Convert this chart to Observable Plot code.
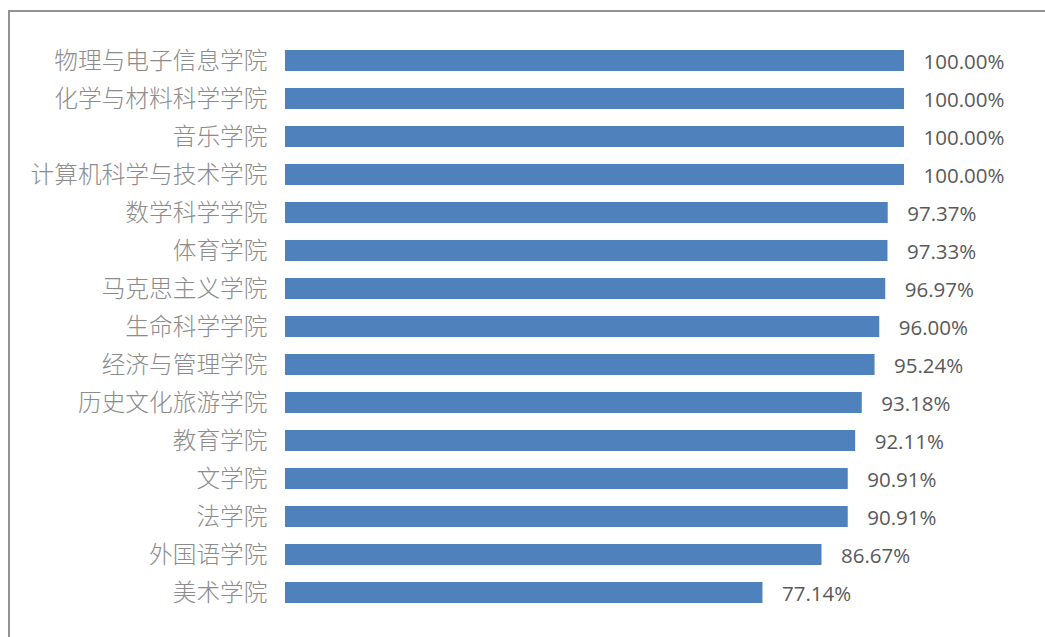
<!DOCTYPE html>
<html>
<head>
<meta charset="utf-8">
<script src="https://cdn.jsdelivr.net/npm/d3@7"></script>
<script src="https://cdn.jsdelivr.net/npm/@observablehq/plot@0.6"></script>
<style>
  html, body { margin: 0; padding: 0; background: #fff; }
  #wrap { position: relative; width: 1045px; height: 637px; overflow: hidden; }
  #frame { position: absolute; left: 8px; top: 10px; width: 1100px; height: 700px;
           border-top: 2px solid #929292; border-left: 2px solid #929292; }
  #chart { position: absolute; left: 0; top: 0; }
</style>
</head>
<body>
<div id="wrap">
  <div id="frame"></div>
  <div id="chart"></div>
</div>
<script>
const categories = [
  "物理与电子信息学院", "化学与材料科学学院", "音乐学院", "计算机科学与技术学院",
  "数学科学学院", "体育学院", "马克思主义学院", "生命科学学院", "经济与管理学院",
  "历史文化旅游学院", "教育学院", "文学院", "法学院", "外国语学院", "美术学院"
];
const values = [100, 100, 100, 100, 97.37, 97.33, 96.97, 96.00, 95.24, 93.18, 92.11, 90.91, 90.91, 86.67, 77.14];

const data = categories.map((c, i) => ({ name: c, value: values[i] }));

const chart = Plot.plot({
  width: 1045,
  height: 637,
  marginLeft: 285,
  marginRight: 141,
  marginTop: 33,
  marginBottom: 16,
  style: { fontFamily: "'Noto Sans CJK SC', 'Open Sans', sans-serif", background: "transparent" },
  x: { domain: [0, 100], axis: null },
  y: { domain: categories, paddingInner: 0.436, paddingOuter: 0.436, label: null },
  marks: [
    Plot.barX(data, { y: "name", x: "value", fill: "#4f81bd" }),
    Plot.axisY({ tickSize: 0, tickPadding: 18, fontSize: 23.7, fill: "#8c8c8c", fontWeight: 300, label: null }),
    Plot.text(data, {
      y: "name", x: "value", text: d => d.value.toFixed(2) + "%",
      dx: 19, dy: 1, textAnchor: "start", fill: "#595959", fontSize: 20.5,
      fontFamily: "'Open Sans', sans-serif"
    })
  ]
});
document.getElementById("chart").appendChild(chart);
</script>
</body>
</html>
